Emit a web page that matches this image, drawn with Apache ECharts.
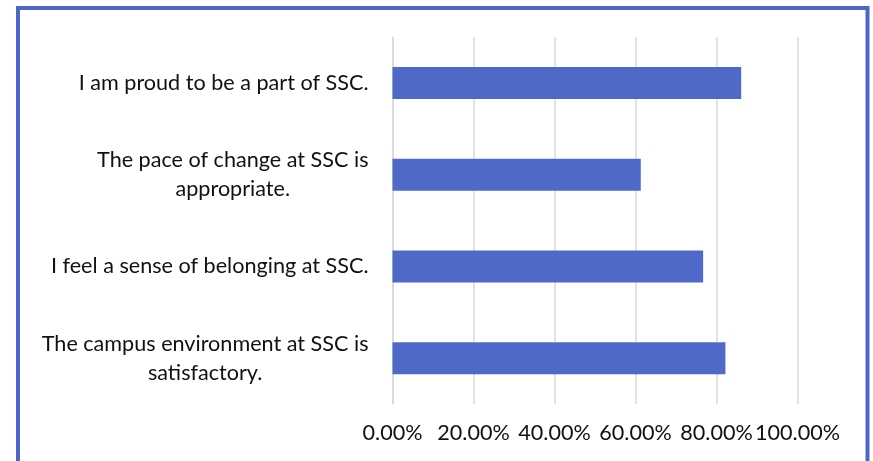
<!DOCTYPE html>
<html>
<head>
<meta charset="utf-8">
<script src="https://cdn.jsdelivr.net/npm/echarts@6/dist/echarts.min.js"></script>
<style>
html,body{margin:0;padding:0;background:#fff;}
#chart{width:873px;height:461px;}
</style>
</head>
<body>
<div id="chart"></div>
<script>
const categories = [
  "I am proud to be a part of SSC.",
  "The pace of change at SSC is\nappropriate.",
  "I feel a sense of belonging at SSC.",
  "The campus environment at SSC is\nsatisfactory."
];
const values = [0.861, 0.613, 0.767, 0.822];
const axisMin = 0, axisMax = 1, axisStep = 0.2;

const chart = echarts.init(document.getElementById('chart'), null, {renderer: 'canvas'});
const FONT = 'Lato';
const FS = 21.6;
chart.setOption({
  animation: false,
  backgroundColor: '#ffffff',
  graphic: [{
    type: 'rect',
    shape: {x: 18, y: 8, width: 849.5, height: 520},
    style: {fill: 'none', stroke: '#4d67c8', lineWidth: 4},
    silent: true
  }],
  grid: {left: 392.5, right: 75.5, top: 37, bottom: 57, containLabel: false},
  xAxis: {
    type: 'value',
    min: axisMin, max: axisMax, interval: axisStep,
    axisLine: {show: false},
    axisTick: {show: false},
    splitLine: {show: true, lineStyle: {color: '#d9d9d9', width: 1.5}},
    axisLabel: {
      margin: 18,
      color: '#111111',
      fontFamily: FONT,
      fontSize: FS,
      formatter: v => (v * 100).toFixed(2) + '%'
    }
  },
  yAxis: {
    type: 'category',
    inverse: true,
    data: categories,
    axisLine: {show: true, lineStyle: {color: '#d9d9d9', width: 1.5}},
    axisTick: {show: false},
    axisLabel: {
      margin: 24,
      align: 'right',
      color: '#111111',
      fontFamily: FONT,
      fontSize: FS,
      lineHeight: 29,
      formatter: v => v.split('\n').map(l => '{c|' + l + '}').join('\n'),
      rich: {c: {align: 'center', fontFamily: FONT, fontSize: FS, lineHeight: 29, color: '#111111'}}
    }
  },
  series: [{
    type: 'bar',
    data: values,
    barWidth: 32,
    itemStyle: {color: '#4f69c8'}
  }]
});
</script>
</body>
</html>
